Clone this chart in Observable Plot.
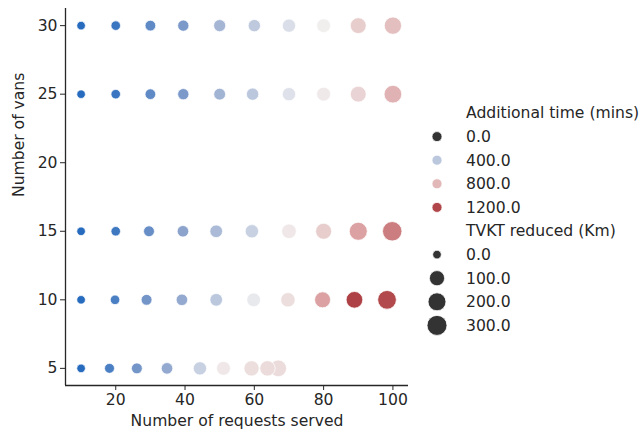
<!DOCTYPE html>
<html>
<head>
<meta charset="utf-8">
<script src="https://cdn.jsdelivr.net/npm/d3@7"></script>
<script src="https://cdn.jsdelivr.net/npm/@observablehq/plot@0.6"></script>
<style>
  html, body { margin: 0; padding: 0; background: #fff; }
  #wrap { position: relative; width: 644px; height: 441px; font-family: "DejaVu Sans", sans-serif; }
  #legend { position: absolute; left: 420px; top: 98px; }
</style>
</head>
<body>
<div id="wrap"><div id="chart"></div><svg id="legend" width="224" height="245"></svg></div>
<script>
// ---- data ----
const vans = [
  30,30,30,30,30,30,30,30,30,30,
  25,25,25,25,25,25,25,25,25,25,
  15,15,15,15,15,15,15,15,15,15,
  10,10,10,10,10,10,10,10,10,10,
  5,5,5,5,5,5,5,5,5
];
const requests = [
  10,20,30,39.5,50,60,70,80,90,100,
  10,20,30,39.5,50,59.5,70,80,90,100,
  10,20,29.6,39.4,49,59.3,70,80,90,99.8,
  10,19.8,28.9,39.1,49,59.8,69.7,79.7,88.9,98.3,
  10,18.2,26.1,34.8,44.3,51.1,59.2,63.8,66.9
];
const additionalTime = [
  -85,-25,100,195,330,410,495,585,715,770,
  -85,-25,100,195,320,400,510,605,690,820,
  -85,-10,130,250,345,440,610,715,880,1010,
  -85,35,170,275,400,540,650,880,1215,1185,
  -85,35,170,275,440,610,650,660,660
];
const tvktReduced = [
  0,2,10,16,28,32,52,66,122,175,
  0,2,10,16,24,32,52,66,122,190,
  0,2,12,20,38,52,85,126,205,270,
  0,2,12,20,38,62,80,126,150,235,
  0,4,12,20,52,66,105,108,150
];
const xTicks = [20, 40, 60, 80, 100];
const yTicks = [5, 10, 15, 20, 25, 30];
const xDomain = [5.5, 104.5];
const yDomain = [3.75, 31.25];
const hueLegendValues = [0, 400, 800, 1200];
const sizeLegendValues = [0, 100, 200, 300];

const rows = vans.map((v, i) => ({
  vans: v, requests: requests[i], time: additionalTime[i], tvkt: tvktReduced[i]
}));

const vlag = d3.piecewise(d3.interpolateRgb, ["#2369bd", "#88a0cb", "#f2f1f1", "#da9a9b", "#a9373b"]);
const FS = 15.6;

const chart = Plot.plot({
  width: 420,
  height: 441,
  marginLeft: 65,
  marginRight: 12,
  marginTop: 8,
  marginBottom: 56,
  style: { fontFamily: "DejaVu Sans, sans-serif", fontSize: FS + "px", color: "#262626", background: "#fff" },
  x: { domain: xDomain, ticks: xTicks, tickFormat: d => String(d), label: null },
  y: { domain: yDomain, ticks: yTicks, tickFormat: d => String(d), label: null },
  color: { type: "linear", domain: [-100, 1250], interpolate: () => vlag, clamp: true },
  r: { type: "sqrt", domain: [0, 300], range: [4.3, 10] },
  marks: [
    Plot.ruleX([xDomain[0]], { stroke: "#262626", strokeWidth: 1.3 }),
    Plot.ruleY([yDomain[0]], { stroke: "#262626", strokeWidth: 1.3 }),
    Plot.axisX({ ticks: xTicks, tickSize: 5, tickPadding: 3, fontSize: FS, stroke: "#262626", fill: "#262626", label: null }),
    Plot.axisY({ ticks: yTicks, tickSize: 5, tickPadding: 3, fontSize: FS, stroke: "#262626", fill: "#262626", label: null }),
    Plot.text(["Number of requests served"], { frameAnchor: "bottom", dy: 40, fontSize: FS, fill: "#262626" }),
    Plot.text(["Number of vans"], { frameAnchor: "left", rotate: -90, dx: -47, fontSize: FS, fill: "#262626" }),
    Plot.dot(rows, { x: "requests", y: "vans", fill: "time", r: "tvkt", stroke: "white", strokeWidth: 0.75, fillOpacity: 1 })
  ]
});
document.getElementById("chart").appendChild(chart);

// ---- legend ----
const colorScale = chart.scale("color");
const rScale = chart.scale("r");
const lg = d3.select("#legend");
const mx = 17, tx = 46, y0 = 15, step = 23.6;
const hueColor = v => (v === 0 ? "#333333" : colorScale.apply(v));
let yy = y0;
lg.append("text").attr("x", tx).attr("y", yy).attr("dy", "0.35em")
  .attr("font-size", FS).attr("fill", "#262626").text("Additional time (mins)");
hueLegendValues.forEach(v => {
  yy += step;
  lg.append("circle").attr("cx", mx).attr("cy", yy).attr("r", 5)
    .attr("fill", hueColor(v)).attr("stroke", "white").attr("stroke-width", 0.75);
  lg.append("text").attr("x", tx).attr("y", yy).attr("dy", "0.35em")
    .attr("font-size", FS).attr("fill", "#262626").text(v.toFixed(1));
});
yy += step;
lg.append("text").attr("x", tx).attr("y", yy).attr("dy", "0.35em")
  .attr("font-size", FS).attr("fill", "#262626").text("TVKT reduced (Km)");
sizeLegendValues.forEach(v => {
  yy += step;
  lg.append("circle").attr("cx", mx).attr("cy", yy).attr("r", rScale.apply(v))
    .attr("fill", "#333333").attr("stroke", "white").attr("stroke-width", 0.75);
  lg.append("text").attr("x", tx).attr("y", yy).attr("dy", "0.35em")
    .attr("font-size", FS).attr("fill", "#262626").text(v.toFixed(1));
});
</script>
</body>
</html>
